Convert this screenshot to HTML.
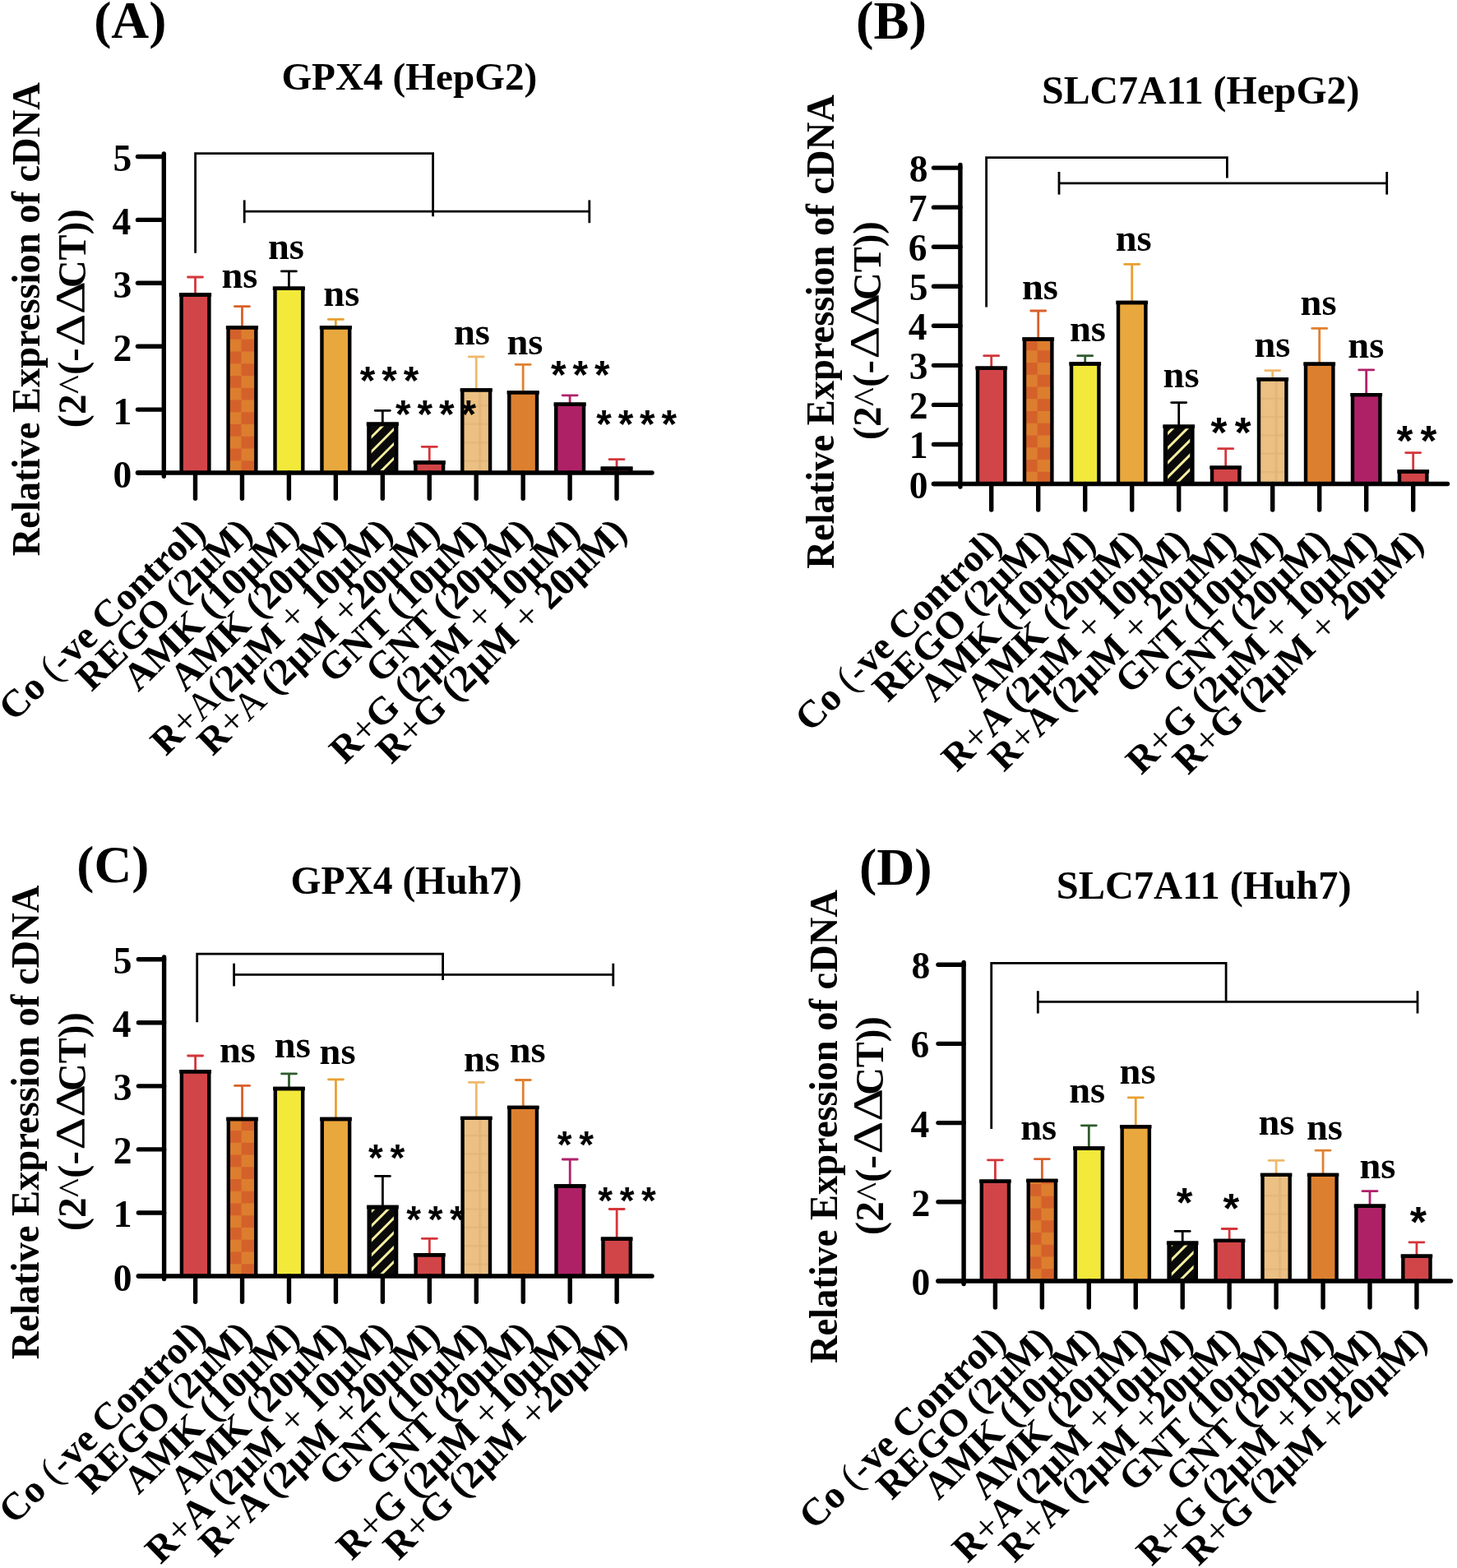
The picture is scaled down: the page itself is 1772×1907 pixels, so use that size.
<!DOCTYPE html>
<html><head><meta charset="utf-8"><title>Figure</title>
<style>html,body{margin:0;padding:0;background:#fff;} svg{display:block;}</style>
</head><body>
<svg width="1772" height="1907" viewBox="0 0 1772 1907" font-family='"Liberation Serif", "Times New Roman", serif'>
<defs><clipPath id="c1"><rect x="277.55" y="398.40" width="33.80" height="176.60"/></clipPath><clipPath id="c2"><rect x="451.60" y="518.40" width="27.40" height="54.10"/></clipPath><clipPath id="c3"><rect x="1246.00" y="412.50" width="33.40" height="176.00"/></clipPath><clipPath id="c4"><rect x="1420.20" y="521.30" width="27.00" height="64.70"/></clipPath><clipPath id="c5"><rect x="277.85" y="1361.00" width="33.40" height="191.00"/></clipPath><clipPath id="c6"><rect x="451.90" y="1470.70" width="27.00" height="78.80"/></clipPath><clipPath id="c7"><rect x="1250.75" y="1435.90" width="33.20" height="122.10"/></clipPath><clipPath id="c8"><rect x="1424.80" y="1514.50" width="26.80" height="41.00"/></clipPath></defs>
<rect width="1772" height="1907" fill="#fff"/>
<text x="114.20" y="46.10" font-size="63.54" font-weight="bold" text-anchor="start">(A)</text>
<text x="342.40" y="108.90" font-size="47.23" font-weight="bold" text-anchor="start">GPX4 (HepG2)</text>
<text x="47.70" y="676.20" font-size="48.5" font-weight="bold" text-anchor="start" textLength="576.0" lengthAdjust="spacingAndGlyphs" transform="rotate(-90 47.70 676.20)">Relative Expression of cDNA</text>
<text x="104.00" y="350.05" font-size="48.5" font-weight="bold" text-anchor="start" textLength="95.7" lengthAdjust="spacingAndGlyphs" transform="rotate(-90 104.00 350.05)">CT))</text>
<text x="101.70" y="421.60" font-size="50" font-weight="normal" text-anchor="start" textLength="79.4" lengthAdjust="spacingAndGlyphs" transform="rotate(-90 101.70 421.60)">ΔΔ</text>
<text x="104.00" y="520.45" font-size="48.5" font-weight="bold" text-anchor="start" textLength="97.3" lengthAdjust="spacingAndGlyphs" transform="rotate(-90 104.00 520.45)">(2<tspan font-weight="normal">^</tspan>(-</text>
<line x1="167.50" y1="575.00" x2="199.30" y2="575.00" stroke="#000" stroke-width="5.4" stroke-linecap="round"/>
<text x="160.20" y="592.50" font-size="45.5" font-weight="bold" text-anchor="end">0</text>
<line x1="167.50" y1="498.10" x2="199.30" y2="498.10" stroke="#000" stroke-width="5.4" stroke-linecap="round"/>
<text x="160.20" y="515.60" font-size="45.5" font-weight="bold" text-anchor="end">1</text>
<line x1="167.50" y1="421.20" x2="199.30" y2="421.20" stroke="#000" stroke-width="5.4" stroke-linecap="round"/>
<text x="160.20" y="438.70" font-size="45.5" font-weight="bold" text-anchor="end">2</text>
<line x1="167.50" y1="344.30" x2="199.30" y2="344.30" stroke="#000" stroke-width="5.4" stroke-linecap="round"/>
<text x="160.20" y="361.80" font-size="45.5" font-weight="bold" text-anchor="end">3</text>
<line x1="167.50" y1="267.40" x2="199.30" y2="267.40" stroke="#000" stroke-width="5.4" stroke-linecap="round"/>
<text x="159.20" y="284.90" font-size="45.5" font-weight="bold" text-anchor="end">4</text>
<line x1="167.50" y1="190.50" x2="199.30" y2="190.50" stroke="#000" stroke-width="5.4" stroke-linecap="round"/>
<text x="160.20" y="208.00" font-size="45.5" font-weight="bold" text-anchor="end">5</text>
<line x1="199.30" y1="187.00" x2="199.30" y2="579.30" stroke="#000" stroke-width="5.4" stroke-linecap="round"/>
<line x1="237.50" y1="357.30" x2="237.50" y2="337.00" stroke="#D3363B" stroke-width="2.8" stroke-linecap="butt"/>
<line x1="228.50" y1="337.00" x2="246.50" y2="337.00" stroke="#D3363B" stroke-width="2.8" stroke-linecap="round"/>
<rect x="220.60" y="358.50" width="33.80" height="216.50" fill="#D14548"/>
<path d="M220.60,575.00 L220.60,358.50 L254.40,358.50 L254.40,575.00" fill="none" stroke="#000" stroke-width="4.4"/>
<line x1="217.90" y1="358.50" x2="257.10" y2="358.50" stroke="#000" stroke-width="4.4"/>
<line x1="294.45" y1="397.20" x2="294.45" y2="372.70" stroke="#D9602A" stroke-width="2.8" stroke-linecap="butt"/>
<line x1="285.45" y1="372.70" x2="303.45" y2="372.70" stroke="#D9602A" stroke-width="2.8" stroke-linecap="round"/>
<rect x="277.55" y="398.40" width="33.80" height="176.60" fill="#DC7E2E"/>
<g clip-path="url(#c1)" fill="#D5612A">
<rect x="293.45" y="560.25" width="17.90" height="14.75"/>
<rect x="277.55" y="545.50" width="15.90" height="14.75"/>
<rect x="293.45" y="530.75" width="17.90" height="14.75"/>
<rect x="277.55" y="516.00" width="15.90" height="14.75"/>
<rect x="293.45" y="501.25" width="17.90" height="14.75"/>
<rect x="277.55" y="486.50" width="15.90" height="14.75"/>
<rect x="293.45" y="471.75" width="17.90" height="14.75"/>
<rect x="277.55" y="457.00" width="15.90" height="14.75"/>
<rect x="293.45" y="442.25" width="17.90" height="14.75"/>
<rect x="277.55" y="427.50" width="15.90" height="14.75"/>
<rect x="293.45" y="412.75" width="17.90" height="14.75"/>
<rect x="277.55" y="398.00" width="15.90" height="14.75"/>
<rect x="293.45" y="383.25" width="17.90" height="14.75"/>
</g>
<path d="M277.55,575.00 L277.55,398.40 L311.35,398.40 L311.35,575.00" fill="none" stroke="#000" stroke-width="4.4"/>
<line x1="274.85" y1="398.40" x2="314.05" y2="398.40" stroke="#000" stroke-width="4.4"/>
<line x1="351.40" y1="349.60" x2="351.40" y2="329.90" stroke="#000" stroke-width="2.8" stroke-linecap="butt"/>
<line x1="342.40" y1="329.90" x2="360.40" y2="329.90" stroke="#000" stroke-width="2.8" stroke-linecap="round"/>
<rect x="334.50" y="350.80" width="33.80" height="224.20" fill="#F2E93B"/>
<path d="M334.50,575.00 L334.50,350.80 L368.30,350.80 L368.30,575.00" fill="none" stroke="#000" stroke-width="4.4"/>
<line x1="331.80" y1="350.80" x2="371.00" y2="350.80" stroke="#000" stroke-width="4.4"/>
<line x1="408.35" y1="397.20" x2="408.35" y2="388.40" stroke="#E8A030" stroke-width="2.8" stroke-linecap="butt"/>
<line x1="399.35" y1="388.40" x2="417.35" y2="388.40" stroke="#E8A030" stroke-width="2.8" stroke-linecap="round"/>
<rect x="391.45" y="398.40" width="33.80" height="176.60" fill="#E8A83D"/>
<path d="M391.45,575.00 L391.45,398.40 L425.25,398.40 L425.25,575.00" fill="none" stroke="#000" stroke-width="4.4"/>
<line x1="388.75" y1="398.40" x2="427.95" y2="398.40" stroke="#000" stroke-width="4.4"/>
<line x1="465.30" y1="514.50" x2="465.30" y2="499.30" stroke="#000" stroke-width="2.8" stroke-linecap="butt"/>
<line x1="456.30" y1="499.30" x2="474.30" y2="499.30" stroke="#000" stroke-width="2.8" stroke-linecap="round"/>
<rect x="448.40" y="515.70" width="33.80" height="59.30" fill="#0A0A0A"/>
<g clip-path="url(#c2)" stroke="#F7EFA0" stroke-width="3.0" stroke-linecap="round">
<line x1="445.60" y1="590.90" x2="485.00" y2="551.50"/>
<line x1="445.60" y1="573.15" x2="485.00" y2="533.75"/>
<line x1="445.60" y1="555.40" x2="485.00" y2="516.00"/>
<line x1="445.60" y1="537.65" x2="485.00" y2="498.25"/>
<line x1="445.60" y1="519.90" x2="485.00" y2="480.50"/>
<line x1="445.60" y1="502.15" x2="485.00" y2="462.75"/>
<line x1="445.60" y1="484.40" x2="485.00" y2="445.00"/>
</g>
<path d="M448.40,575.00 L448.40,515.70 L482.20,515.70 L482.20,575.00" fill="none" stroke="#000" stroke-width="4.4"/>
<line x1="445.70" y1="515.70" x2="484.90" y2="515.70" stroke="#000" stroke-width="4.4"/>
<line x1="522.25" y1="561.30" x2="522.25" y2="543.30" stroke="#D3363B" stroke-width="2.8" stroke-linecap="butt"/>
<line x1="513.25" y1="543.30" x2="531.25" y2="543.30" stroke="#D3363B" stroke-width="2.8" stroke-linecap="round"/>
<rect x="505.35" y="562.50" width="33.80" height="12.50" fill="#D14548"/>
<path d="M505.35,575.00 L505.35,562.50 L539.15,562.50 L539.15,575.00" fill="none" stroke="#000" stroke-width="4.4"/>
<line x1="502.65" y1="562.50" x2="541.85" y2="562.50" stroke="#000" stroke-width="4.4"/>
<line x1="579.20" y1="473.20" x2="579.20" y2="433.90" stroke="#F0B86C" stroke-width="2.8" stroke-linecap="butt"/>
<line x1="570.20" y1="433.90" x2="588.20" y2="433.90" stroke="#F0B86C" stroke-width="2.8" stroke-linecap="round"/>
<rect x="562.30" y="474.40" width="33.80" height="100.60" fill="#EBC082"/>
<rect x="582.00" y="476.60" width="3.4" height="98.40" fill="#E0B277" opacity="0.7"/>
<rect x="564.50" y="559.40" width="29.40" height="2.4" fill="#E0B277" opacity="0.6"/>
<rect x="564.50" y="537.05" width="29.40" height="2.4" fill="#E0B277" opacity="0.6"/>
<rect x="564.50" y="514.70" width="29.40" height="2.4" fill="#E0B277" opacity="0.6"/>
<rect x="564.50" y="492.35" width="29.40" height="2.4" fill="#E0B277" opacity="0.6"/>
<path d="M562.30,575.00 L562.30,474.40 L596.10,474.40 L596.10,575.00" fill="none" stroke="#000" stroke-width="4.4"/>
<line x1="559.60" y1="474.40" x2="598.80" y2="474.40" stroke="#000" stroke-width="4.4"/>
<line x1="636.15" y1="476.20" x2="636.15" y2="443.30" stroke="#E08030" stroke-width="2.8" stroke-linecap="butt"/>
<line x1="627.15" y1="443.30" x2="645.15" y2="443.30" stroke="#E08030" stroke-width="2.8" stroke-linecap="round"/>
<rect x="619.25" y="477.40" width="33.80" height="97.60" fill="#DC8030"/>
<path d="M619.25,575.00 L619.25,477.40 L653.05,477.40 L653.05,575.00" fill="none" stroke="#000" stroke-width="4.4"/>
<line x1="616.55" y1="477.40" x2="655.75" y2="477.40" stroke="#000" stroke-width="4.4"/>
<line x1="693.10" y1="490.60" x2="693.10" y2="480.80" stroke="#B0206A" stroke-width="2.8" stroke-linecap="butt"/>
<line x1="684.10" y1="480.80" x2="702.10" y2="480.80" stroke="#B0206A" stroke-width="2.8" stroke-linecap="round"/>
<rect x="676.20" y="491.80" width="33.80" height="83.20" fill="#AF2167"/>
<path d="M676.20,575.00 L676.20,491.80 L710.00,491.80 L710.00,575.00" fill="none" stroke="#000" stroke-width="4.4"/>
<line x1="673.50" y1="491.80" x2="712.70" y2="491.80" stroke="#000" stroke-width="4.4"/>
<line x1="750.05" y1="568.50" x2="750.05" y2="558.70" stroke="#D3363B" stroke-width="2.8" stroke-linecap="butt"/>
<line x1="741.05" y1="558.70" x2="759.05" y2="558.70" stroke="#D3363B" stroke-width="2.8" stroke-linecap="round"/>
<rect x="733.15" y="569.70" width="33.80" height="5.30" fill="#D14548"/>
<path d="M733.15,575.00 L733.15,569.70 L766.95,569.70 L766.95,575.00" fill="none" stroke="#000" stroke-width="4.4"/>
<line x1="730.45" y1="569.70" x2="769.65" y2="569.70" stroke="#000" stroke-width="4.4"/>
<line x1="167.50" y1="575.00" x2="793.00" y2="575.00" stroke="#000" stroke-width="5.4" stroke-linecap="round"/>
<line x1="237.50" y1="575.00" x2="237.50" y2="606.30" stroke="#000" stroke-width="5.4" stroke-linecap="round"/>
<line x1="294.45" y1="575.00" x2="294.45" y2="606.30" stroke="#000" stroke-width="5.4" stroke-linecap="round"/>
<line x1="351.40" y1="575.00" x2="351.40" y2="606.30" stroke="#000" stroke-width="5.4" stroke-linecap="round"/>
<line x1="408.35" y1="575.00" x2="408.35" y2="606.30" stroke="#000" stroke-width="5.4" stroke-linecap="round"/>
<line x1="465.30" y1="575.00" x2="465.30" y2="606.30" stroke="#000" stroke-width="5.4" stroke-linecap="round"/>
<line x1="522.25" y1="575.00" x2="522.25" y2="606.30" stroke="#000" stroke-width="5.4" stroke-linecap="round"/>
<line x1="579.20" y1="575.00" x2="579.20" y2="606.30" stroke="#000" stroke-width="5.4" stroke-linecap="round"/>
<line x1="636.15" y1="575.00" x2="636.15" y2="606.30" stroke="#000" stroke-width="5.4" stroke-linecap="round"/>
<line x1="693.10" y1="575.00" x2="693.10" y2="606.30" stroke="#000" stroke-width="5.4" stroke-linecap="round"/>
<line x1="750.05" y1="575.00" x2="750.05" y2="606.30" stroke="#000" stroke-width="5.4" stroke-linecap="round"/>
<path d="M237.6,307.7 L237.6,186.7 L526.6,186.7 L526.6,263.3" fill="none" stroke="#000" stroke-width="2.8"/>
<line x1="297.20" y1="257.10" x2="716.80" y2="257.10" stroke="#000" stroke-width="2.8" stroke-linecap="butt"/>
<line x1="297.20" y1="243.40" x2="297.20" y2="271.20" stroke="#000" stroke-width="2.8" stroke-linecap="butt"/>
<line x1="716.80" y1="243.40" x2="716.80" y2="271.20" stroke="#000" stroke-width="2.8" stroke-linecap="butt"/>
<text x="269.40" y="350.00" font-size="46.5" font-weight="bold" text-anchor="start">ns</text>
<text x="325.90" y="315.30" font-size="46.5" font-weight="bold" text-anchor="start">ns</text>
<text x="393.30" y="372.30" font-size="46.5" font-weight="bold" text-anchor="start">ns</text>
<text x="437.70" y="478.90" font-family='"Liberation Sans", sans-serif' font-size="47.62" font-weight="bold" text-anchor="start">*</text>
<text x="464.20" y="478.90" font-family='"Liberation Sans", sans-serif' font-size="47.62" font-weight="bold" text-anchor="start">*</text>
<text x="490.70" y="478.90" font-family='"Liberation Sans", sans-serif' font-size="47.62" font-weight="bold" text-anchor="start">*</text>
<text x="481.00" y="520.40" font-family='"Liberation Sans", sans-serif' font-size="47.62" font-weight="bold" text-anchor="start">*</text>
<text x="507.50" y="520.40" font-family='"Liberation Sans", sans-serif' font-size="47.62" font-weight="bold" text-anchor="start">*</text>
<text x="534.00" y="520.40" font-family='"Liberation Sans", sans-serif' font-size="47.62" font-weight="bold" text-anchor="start">*</text>
<text x="560.50" y="520.40" font-family='"Liberation Sans", sans-serif' font-size="47.62" font-weight="bold" text-anchor="start">*</text>
<text x="552.00" y="418.50" font-size="46.5" font-weight="bold" text-anchor="start">ns</text>
<text x="616.40" y="431.00" font-size="46.5" font-weight="bold" text-anchor="start">ns</text>
<text x="670.10" y="472.30" font-family='"Liberation Sans", sans-serif' font-size="47.62" font-weight="bold" text-anchor="start">*</text>
<text x="696.60" y="472.30" font-family='"Liberation Sans", sans-serif' font-size="47.62" font-weight="bold" text-anchor="start">*</text>
<text x="723.10" y="472.30" font-family='"Liberation Sans", sans-serif' font-size="47.62" font-weight="bold" text-anchor="start">*</text>
<text x="725.30" y="531.50" font-family='"Liberation Sans", sans-serif' font-size="47.62" font-weight="bold" text-anchor="start">*</text>
<text x="751.70" y="531.50" font-family='"Liberation Sans", sans-serif' font-size="47.62" font-weight="bold" text-anchor="start">*</text>
<text x="778.10" y="531.50" font-family='"Liberation Sans", sans-serif' font-size="47.62" font-weight="bold" text-anchor="start">*</text>
<text x="804.50" y="531.50" font-family='"Liberation Sans", sans-serif' font-size="47.62" font-weight="bold" text-anchor="start">*</text>
<text x="252.20" y="649.90" font-size="47.0" font-weight="bold" text-anchor="end" transform="rotate(-44.2 252.20 649.90)">Co <tspan font-weight="normal">(-</tspan>ve Control)</text>
<text x="309.15" y="649.90" font-size="47.0" font-weight="bold" text-anchor="end" transform="rotate(-44.2 309.15 649.90)">REGO (2μM)</text>
<text x="366.10" y="649.90" font-size="47.0" font-weight="bold" text-anchor="end" transform="rotate(-44.2 366.10 649.90)">AMK (10μM)</text>
<text x="423.05" y="649.90" font-size="47.0" font-weight="bold" text-anchor="end" transform="rotate(-44.2 423.05 649.90)">AMK (20μM)</text>
<text x="480.00" y="649.90" font-size="47.0" font-weight="bold" text-anchor="end" transform="rotate(-44.2 480.00 649.90)">R<tspan font-weight="normal">+A</tspan>(2μM <tspan font-weight="normal">+</tspan> 10μM)</text>
<text x="536.95" y="649.90" font-size="47.0" font-weight="bold" text-anchor="end" transform="rotate(-44.2 536.95 649.90)">R<tspan font-weight="normal">+A</tspan> (2μM <tspan font-weight="normal">+</tspan>20μM)</text>
<text x="593.90" y="649.90" font-size="47.0" font-weight="bold" text-anchor="end" transform="rotate(-44.2 593.90 649.90)">GNT (10μM)</text>
<text x="650.85" y="649.90" font-size="47.0" font-weight="bold" text-anchor="end" transform="rotate(-44.2 650.85 649.90)">GNT (20μM)</text>
<text x="707.80" y="649.90" font-size="47.0" font-weight="bold" text-anchor="end" transform="rotate(-44.2 707.80 649.90)">R<tspan font-weight="normal">+</tspan>G (2μM <tspan font-weight="normal">+</tspan> 10μM)</text>
<text x="764.75" y="649.90" font-size="47.0" font-weight="bold" text-anchor="end" transform="rotate(-44.2 764.75 649.90)">R<tspan font-weight="normal">+</tspan>G (2μM <tspan font-weight="normal">+</tspan> 20μM)</text>
<text x="1041.00" y="46.60" font-size="64.54" font-weight="bold" text-anchor="start">(B)</text>
<text x="1267.05" y="125.60" font-size="47.81" font-weight="bold" text-anchor="start">SLC7A11 (HepG2)</text>
<text x="1014.10" y="691.65" font-size="48.5" font-weight="bold" text-anchor="start" textLength="576.5" lengthAdjust="spacingAndGlyphs" transform="rotate(-90 1014.10 691.65)">Relative Expression of cDNA</text>
<text x="1070.70" y="364.95" font-size="48.5" font-weight="bold" text-anchor="start" textLength="95.7" lengthAdjust="spacingAndGlyphs" transform="rotate(-90 1070.70 364.95)">CT))</text>
<text x="1068.40" y="436.50" font-size="50" font-weight="normal" text-anchor="start" textLength="79.4" lengthAdjust="spacingAndGlyphs" transform="rotate(-90 1068.40 436.50)">ΔΔ</text>
<text x="1070.70" y="535.35" font-size="48.5" font-weight="bold" text-anchor="start" textLength="97.3" lengthAdjust="spacingAndGlyphs" transform="rotate(-90 1070.70 535.35)">(2<tspan font-weight="normal">^</tspan>(-</text>
<line x1="1135.50" y1="588.50" x2="1167.90" y2="588.50" stroke="#000" stroke-width="5.4" stroke-linecap="round"/>
<text x="1128.40" y="605.50" font-size="45.5" font-weight="bold" text-anchor="end">0</text>
<line x1="1135.50" y1="540.45" x2="1167.90" y2="540.45" stroke="#000" stroke-width="5.4" stroke-linecap="round"/>
<text x="1128.40" y="557.45" font-size="45.5" font-weight="bold" text-anchor="end">1</text>
<line x1="1135.50" y1="492.40" x2="1167.90" y2="492.40" stroke="#000" stroke-width="5.4" stroke-linecap="round"/>
<text x="1128.40" y="509.40" font-size="45.5" font-weight="bold" text-anchor="end">2</text>
<line x1="1135.50" y1="444.35" x2="1167.90" y2="444.35" stroke="#000" stroke-width="5.4" stroke-linecap="round"/>
<text x="1128.40" y="461.35" font-size="45.5" font-weight="bold" text-anchor="end">3</text>
<line x1="1135.50" y1="396.30" x2="1167.90" y2="396.30" stroke="#000" stroke-width="5.4" stroke-linecap="round"/>
<text x="1127.40" y="413.30" font-size="45.5" font-weight="bold" text-anchor="end">4</text>
<line x1="1135.50" y1="348.25" x2="1167.90" y2="348.25" stroke="#000" stroke-width="5.4" stroke-linecap="round"/>
<text x="1128.40" y="365.25" font-size="45.5" font-weight="bold" text-anchor="end">5</text>
<line x1="1135.50" y1="300.20" x2="1167.90" y2="300.20" stroke="#000" stroke-width="5.4" stroke-linecap="round"/>
<text x="1127.40" y="317.20" font-size="45.5" font-weight="bold" text-anchor="end">6</text>
<line x1="1135.50" y1="252.15" x2="1167.90" y2="252.15" stroke="#000" stroke-width="5.4" stroke-linecap="round"/>
<text x="1127.40" y="269.15" font-size="45.5" font-weight="bold" text-anchor="end">7</text>
<line x1="1135.50" y1="204.10" x2="1167.90" y2="204.10" stroke="#000" stroke-width="5.4" stroke-linecap="round"/>
<text x="1128.40" y="221.10" font-size="45.5" font-weight="bold" text-anchor="end">8</text>
<line x1="1167.90" y1="200.50" x2="1167.90" y2="592.00" stroke="#000" stroke-width="5.4" stroke-linecap="round"/>
<line x1="1205.70" y1="446.40" x2="1205.70" y2="432.70" stroke="#D3363B" stroke-width="2.8" stroke-linecap="butt"/>
<line x1="1196.70" y1="432.70" x2="1214.70" y2="432.70" stroke="#D3363B" stroke-width="2.8" stroke-linecap="round"/>
<rect x="1189.00" y="447.60" width="33.40" height="140.90" fill="#D14548"/>
<path d="M1189.00,588.50 L1189.00,447.60 L1222.40,447.60 L1222.40,588.50" fill="none" stroke="#000" stroke-width="4.4"/>
<line x1="1186.30" y1="447.60" x2="1225.10" y2="447.60" stroke="#000" stroke-width="4.4"/>
<line x1="1262.70" y1="411.30" x2="1262.70" y2="378.00" stroke="#D9602A" stroke-width="2.8" stroke-linecap="butt"/>
<line x1="1253.70" y1="378.00" x2="1271.70" y2="378.00" stroke="#D9602A" stroke-width="2.8" stroke-linecap="round"/>
<rect x="1246.00" y="412.50" width="33.40" height="176.00" fill="#DC7E2E"/>
<g clip-path="url(#c3)" fill="#D5612A">
<rect x="1261.70" y="573.75" width="17.70" height="14.75"/>
<rect x="1246.00" y="559.00" width="15.70" height="14.75"/>
<rect x="1261.70" y="544.25" width="17.70" height="14.75"/>
<rect x="1246.00" y="529.50" width="15.70" height="14.75"/>
<rect x="1261.70" y="514.75" width="17.70" height="14.75"/>
<rect x="1246.00" y="500.00" width="15.70" height="14.75"/>
<rect x="1261.70" y="485.25" width="17.70" height="14.75"/>
<rect x="1246.00" y="470.50" width="15.70" height="14.75"/>
<rect x="1261.70" y="455.75" width="17.70" height="14.75"/>
<rect x="1246.00" y="441.00" width="15.70" height="14.75"/>
<rect x="1261.70" y="426.25" width="17.70" height="14.75"/>
<rect x="1246.00" y="411.50" width="15.70" height="14.75"/>
<rect x="1261.70" y="396.75" width="17.70" height="14.75"/>
</g>
<path d="M1246.00,588.50 L1246.00,412.50 L1279.40,412.50 L1279.40,588.50" fill="none" stroke="#000" stroke-width="4.4"/>
<line x1="1243.30" y1="412.50" x2="1282.10" y2="412.50" stroke="#000" stroke-width="4.4"/>
<line x1="1319.70" y1="441.30" x2="1319.70" y2="432.70" stroke="#2F5B2B" stroke-width="2.8" stroke-linecap="butt"/>
<line x1="1310.70" y1="432.70" x2="1328.70" y2="432.70" stroke="#2F5B2B" stroke-width="2.8" stroke-linecap="round"/>
<rect x="1303.00" y="442.50" width="33.40" height="146.00" fill="#F2E93B"/>
<path d="M1303.00,588.50 L1303.00,442.50 L1336.40,442.50 L1336.40,588.50" fill="none" stroke="#000" stroke-width="4.4"/>
<line x1="1300.30" y1="442.50" x2="1339.10" y2="442.50" stroke="#000" stroke-width="4.4"/>
<line x1="1376.70" y1="366.80" x2="1376.70" y2="321.30" stroke="#E8A030" stroke-width="2.8" stroke-linecap="butt"/>
<line x1="1367.70" y1="321.30" x2="1385.70" y2="321.30" stroke="#E8A030" stroke-width="2.8" stroke-linecap="round"/>
<rect x="1360.00" y="368.00" width="33.40" height="220.50" fill="#E8A83D"/>
<path d="M1360.00,588.50 L1360.00,368.00 L1393.40,368.00 L1393.40,588.50" fill="none" stroke="#000" stroke-width="4.4"/>
<line x1="1357.30" y1="368.00" x2="1396.10" y2="368.00" stroke="#000" stroke-width="4.4"/>
<line x1="1433.70" y1="517.40" x2="1433.70" y2="489.60" stroke="#000" stroke-width="2.8" stroke-linecap="butt"/>
<line x1="1424.70" y1="489.60" x2="1442.70" y2="489.60" stroke="#000" stroke-width="2.8" stroke-linecap="round"/>
<rect x="1417.00" y="518.60" width="33.40" height="69.90" fill="#0A0A0A"/>
<g clip-path="url(#c4)" stroke="#F7EFA0" stroke-width="3.0" stroke-linecap="round">
<line x1="1414.20" y1="604.20" x2="1453.20" y2="565.20"/>
<line x1="1414.20" y1="586.45" x2="1453.20" y2="547.45"/>
<line x1="1414.20" y1="568.70" x2="1453.20" y2="529.70"/>
<line x1="1414.20" y1="550.95" x2="1453.20" y2="511.95"/>
<line x1="1414.20" y1="533.20" x2="1453.20" y2="494.20"/>
<line x1="1414.20" y1="515.45" x2="1453.20" y2="476.45"/>
<line x1="1414.20" y1="497.70" x2="1453.20" y2="458.70"/>
</g>
<path d="M1417.00,588.50 L1417.00,518.60 L1450.40,518.60 L1450.40,588.50" fill="none" stroke="#000" stroke-width="4.4"/>
<line x1="1414.30" y1="518.60" x2="1453.10" y2="518.60" stroke="#000" stroke-width="4.4"/>
<line x1="1490.70" y1="567.40" x2="1490.70" y2="545.70" stroke="#D3363B" stroke-width="2.8" stroke-linecap="butt"/>
<line x1="1481.70" y1="545.70" x2="1499.70" y2="545.70" stroke="#D3363B" stroke-width="2.8" stroke-linecap="round"/>
<rect x="1474.00" y="568.60" width="33.40" height="19.90" fill="#D14548"/>
<path d="M1474.00,588.50 L1474.00,568.60 L1507.40,568.60 L1507.40,588.50" fill="none" stroke="#000" stroke-width="4.4"/>
<line x1="1471.30" y1="568.60" x2="1510.10" y2="568.60" stroke="#000" stroke-width="4.4"/>
<line x1="1547.70" y1="460.10" x2="1547.70" y2="450.60" stroke="#F0B86C" stroke-width="2.8" stroke-linecap="butt"/>
<line x1="1538.70" y1="450.60" x2="1556.70" y2="450.60" stroke="#F0B86C" stroke-width="2.8" stroke-linecap="round"/>
<rect x="1531.00" y="461.30" width="33.40" height="127.20" fill="#EBC082"/>
<rect x="1550.50" y="463.50" width="3.4" height="125.00" fill="#E0B277" opacity="0.7"/>
<rect x="1533.20" y="572.90" width="29.00" height="2.4" fill="#E0B277" opacity="0.6"/>
<rect x="1533.20" y="550.55" width="29.00" height="2.4" fill="#E0B277" opacity="0.6"/>
<rect x="1533.20" y="528.20" width="29.00" height="2.4" fill="#E0B277" opacity="0.6"/>
<rect x="1533.20" y="505.85" width="29.00" height="2.4" fill="#E0B277" opacity="0.6"/>
<rect x="1533.20" y="483.50" width="29.00" height="2.4" fill="#E0B277" opacity="0.6"/>
<path d="M1531.00,588.50 L1531.00,461.30 L1564.40,461.30 L1564.40,588.50" fill="none" stroke="#000" stroke-width="4.4"/>
<line x1="1528.30" y1="461.30" x2="1567.10" y2="461.30" stroke="#000" stroke-width="4.4"/>
<line x1="1604.70" y1="441.40" x2="1604.70" y2="399.40" stroke="#E08030" stroke-width="2.8" stroke-linecap="butt"/>
<line x1="1595.70" y1="399.40" x2="1613.70" y2="399.40" stroke="#E08030" stroke-width="2.8" stroke-linecap="round"/>
<rect x="1588.00" y="442.60" width="33.40" height="145.90" fill="#DC8030"/>
<path d="M1588.00,588.50 L1588.00,442.60 L1621.40,442.60 L1621.40,588.50" fill="none" stroke="#000" stroke-width="4.4"/>
<line x1="1585.30" y1="442.60" x2="1624.10" y2="442.60" stroke="#000" stroke-width="4.4"/>
<line x1="1661.70" y1="478.90" x2="1661.70" y2="449.90" stroke="#B0206A" stroke-width="2.8" stroke-linecap="butt"/>
<line x1="1652.70" y1="449.90" x2="1670.70" y2="449.90" stroke="#B0206A" stroke-width="2.8" stroke-linecap="round"/>
<rect x="1645.00" y="480.10" width="33.40" height="108.40" fill="#AF2167"/>
<path d="M1645.00,588.50 L1645.00,480.10 L1678.40,480.10 L1678.40,588.50" fill="none" stroke="#000" stroke-width="4.4"/>
<line x1="1642.30" y1="480.10" x2="1681.10" y2="480.10" stroke="#000" stroke-width="4.4"/>
<line x1="1718.70" y1="572.30" x2="1718.70" y2="550.60" stroke="#D3363B" stroke-width="2.8" stroke-linecap="butt"/>
<line x1="1709.70" y1="550.60" x2="1727.70" y2="550.60" stroke="#D3363B" stroke-width="2.8" stroke-linecap="round"/>
<rect x="1702.00" y="573.50" width="33.40" height="15.00" fill="#D14548"/>
<path d="M1702.00,588.50 L1702.00,573.50 L1735.40,573.50 L1735.40,588.50" fill="none" stroke="#000" stroke-width="4.4"/>
<line x1="1699.30" y1="573.50" x2="1738.10" y2="573.50" stroke="#000" stroke-width="4.4"/>
<line x1="1135.50" y1="588.50" x2="1760.50" y2="588.50" stroke="#000" stroke-width="5.4" stroke-linecap="round"/>
<line x1="1205.70" y1="588.50" x2="1205.70" y2="620.00" stroke="#000" stroke-width="5.4" stroke-linecap="round"/>
<line x1="1262.70" y1="588.50" x2="1262.70" y2="620.00" stroke="#000" stroke-width="5.4" stroke-linecap="round"/>
<line x1="1319.70" y1="588.50" x2="1319.70" y2="620.00" stroke="#000" stroke-width="5.4" stroke-linecap="round"/>
<line x1="1376.70" y1="588.50" x2="1376.70" y2="620.00" stroke="#000" stroke-width="5.4" stroke-linecap="round"/>
<line x1="1433.70" y1="588.50" x2="1433.70" y2="620.00" stroke="#000" stroke-width="5.4" stroke-linecap="round"/>
<line x1="1490.70" y1="588.50" x2="1490.70" y2="620.00" stroke="#000" stroke-width="5.4" stroke-linecap="round"/>
<line x1="1547.70" y1="588.50" x2="1547.70" y2="620.00" stroke="#000" stroke-width="5.4" stroke-linecap="round"/>
<line x1="1604.70" y1="588.50" x2="1604.70" y2="620.00" stroke="#000" stroke-width="5.4" stroke-linecap="round"/>
<line x1="1661.70" y1="588.50" x2="1661.70" y2="620.00" stroke="#000" stroke-width="5.4" stroke-linecap="round"/>
<line x1="1718.70" y1="588.50" x2="1718.70" y2="620.00" stroke="#000" stroke-width="5.4" stroke-linecap="round"/>
<path d="M1199.6,373.4 L1199.6,191.6 L1492.4,191.6 L1492.4,216.6" fill="none" stroke="#000" stroke-width="2.8"/>
<line x1="1288.00" y1="222.90" x2="1686.70" y2="222.90" stroke="#000" stroke-width="2.8" stroke-linecap="butt"/>
<line x1="1288.00" y1="209.00" x2="1288.00" y2="236.60" stroke="#000" stroke-width="2.8" stroke-linecap="butt"/>
<line x1="1686.70" y1="209.00" x2="1686.70" y2="236.60" stroke="#000" stroke-width="2.8" stroke-linecap="butt"/>
<text x="1243.00" y="364.00" font-size="46.5" font-weight="bold" text-anchor="start">ns</text>
<text x="1300.90" y="414.70" font-size="46.5" font-weight="bold" text-anchor="start">ns</text>
<text x="1356.70" y="304.50" font-size="46.5" font-weight="bold" text-anchor="start">ns</text>
<text x="1414.60" y="470.50" font-size="46.5" font-weight="bold" text-anchor="start">ns</text>
<text x="1472.60" y="544.20" font-family='"Liberation Sans", sans-serif' font-size="51.03" font-weight="bold" text-anchor="start">*</text>
<text x="1501.80" y="544.20" font-family='"Liberation Sans", sans-serif' font-size="51.03" font-weight="bold" text-anchor="start">*</text>
<text x="1525.50" y="434.00" font-size="46.5" font-weight="bold" text-anchor="start">ns</text>
<text x="1581.60" y="382.80" font-size="46.5" font-weight="bold" text-anchor="start">ns</text>
<text x="1639.30" y="435.20" font-size="46.5" font-weight="bold" text-anchor="start">ns</text>
<text x="1698.40" y="553.90" font-family='"Liberation Sans", sans-serif' font-size="51.03" font-weight="bold" text-anchor="start">*</text>
<text x="1727.60" y="553.90" font-family='"Liberation Sans", sans-serif' font-size="51.03" font-weight="bold" text-anchor="start">*</text>
<text x="1220.70" y="662.90" font-size="47.0" font-weight="bold" text-anchor="end" transform="rotate(-44.2 1220.70 662.90)">Co <tspan font-weight="normal">(-</tspan>ve Control)</text>
<text x="1277.70" y="662.90" font-size="47.0" font-weight="bold" text-anchor="end" transform="rotate(-44.2 1277.70 662.90)">REGO (2μM)</text>
<text x="1334.70" y="662.90" font-size="47.0" font-weight="bold" text-anchor="end" transform="rotate(-44.2 1334.70 662.90)">AMK (10μM)</text>
<text x="1391.70" y="662.90" font-size="47.0" font-weight="bold" text-anchor="end" transform="rotate(-44.2 1391.70 662.90)">AMK (20μM)</text>
<text x="1448.70" y="662.90" font-size="47.0" font-weight="bold" text-anchor="end" transform="rotate(-44.2 1448.70 662.90)">R<tspan font-weight="normal">+</tspan>A (2μM <tspan font-weight="normal">+</tspan> 10μM)</text>
<text x="1505.70" y="662.90" font-size="47.0" font-weight="bold" text-anchor="end" transform="rotate(-44.2 1505.70 662.90)">R<tspan font-weight="normal">+</tspan>A (2μM <tspan font-weight="normal">+</tspan> 20μM)</text>
<text x="1562.70" y="662.90" font-size="47.0" font-weight="bold" text-anchor="end" transform="rotate(-44.2 1562.70 662.90)">GNT (10μM)</text>
<text x="1619.70" y="662.90" font-size="47.0" font-weight="bold" text-anchor="end" transform="rotate(-44.2 1619.70 662.90)">GNT (20μM)</text>
<text x="1676.70" y="662.90" font-size="47.0" font-weight="bold" text-anchor="end" transform="rotate(-44.2 1676.70 662.90)">R<tspan font-weight="normal">+</tspan>G (2μM <tspan font-weight="normal">+</tspan> 10μM)</text>
<text x="1733.70" y="662.90" font-size="47.0" font-weight="bold" text-anchor="end" transform="rotate(-44.2 1733.70 662.90)">R<tspan font-weight="normal">+</tspan>G (2μM <tspan font-weight="normal">+</tspan> 20μM)</text>
<text x="93.35" y="1073.00" font-size="63.31" font-weight="bold" text-anchor="start">(C)</text>
<text x="353.45" y="1087.30" font-size="47.56" font-weight="bold" text-anchor="start">GPX4 (Huh7)</text>
<text x="47.40" y="1653.35" font-size="48.5" font-weight="bold" text-anchor="start" textLength="576.7" lengthAdjust="spacingAndGlyphs" transform="rotate(-90 47.40 1653.35)">Relative Expression of cDNA</text>
<text x="104.00" y="1326.95" font-size="48.5" font-weight="bold" text-anchor="start" textLength="95.7" lengthAdjust="spacingAndGlyphs" transform="rotate(-90 104.00 1326.95)">CT))</text>
<text x="101.70" y="1398.50" font-size="50" font-weight="normal" text-anchor="start" textLength="79.4" lengthAdjust="spacingAndGlyphs" transform="rotate(-90 101.70 1398.50)">ΔΔ</text>
<text x="104.00" y="1497.35" font-size="48.5" font-weight="bold" text-anchor="start" textLength="97.3" lengthAdjust="spacingAndGlyphs" transform="rotate(-90 104.00 1497.35)">(2<tspan font-weight="normal">^</tspan>(-</text>
<line x1="168.40" y1="1552.00" x2="199.60" y2="1552.00" stroke="#000" stroke-width="5.4" stroke-linecap="round"/>
<text x="160.60" y="1569.50" font-size="45.5" font-weight="bold" text-anchor="end">0</text>
<line x1="168.40" y1="1474.95" x2="199.60" y2="1474.95" stroke="#000" stroke-width="5.4" stroke-linecap="round"/>
<text x="160.60" y="1492.45" font-size="45.5" font-weight="bold" text-anchor="end">1</text>
<line x1="168.40" y1="1397.90" x2="199.60" y2="1397.90" stroke="#000" stroke-width="5.4" stroke-linecap="round"/>
<text x="160.60" y="1415.40" font-size="45.5" font-weight="bold" text-anchor="end">2</text>
<line x1="168.40" y1="1320.85" x2="199.60" y2="1320.85" stroke="#000" stroke-width="5.4" stroke-linecap="round"/>
<text x="160.60" y="1338.35" font-size="45.5" font-weight="bold" text-anchor="end">3</text>
<line x1="168.40" y1="1243.80" x2="199.60" y2="1243.80" stroke="#000" stroke-width="5.4" stroke-linecap="round"/>
<text x="159.60" y="1261.30" font-size="45.5" font-weight="bold" text-anchor="end">4</text>
<line x1="168.40" y1="1166.75" x2="199.60" y2="1166.75" stroke="#000" stroke-width="5.4" stroke-linecap="round"/>
<text x="160.60" y="1184.25" font-size="45.5" font-weight="bold" text-anchor="end">5</text>
<line x1="199.60" y1="1164.00" x2="199.60" y2="1555.50" stroke="#000" stroke-width="5.4" stroke-linecap="round"/>
<line x1="237.60" y1="1302.00" x2="237.60" y2="1284.00" stroke="#D3363B" stroke-width="2.8" stroke-linecap="butt"/>
<line x1="228.60" y1="1284.00" x2="246.60" y2="1284.00" stroke="#D3363B" stroke-width="2.8" stroke-linecap="round"/>
<rect x="220.90" y="1303.20" width="33.40" height="248.80" fill="#D14548"/>
<path d="M220.90,1552.00 L220.90,1303.20 L254.30,1303.20 L254.30,1552.00" fill="none" stroke="#000" stroke-width="4.4"/>
<line x1="218.20" y1="1303.20" x2="257.00" y2="1303.20" stroke="#000" stroke-width="4.4"/>
<line x1="294.55" y1="1359.80" x2="294.55" y2="1320.40" stroke="#D9602A" stroke-width="2.8" stroke-linecap="butt"/>
<line x1="285.55" y1="1320.40" x2="303.55" y2="1320.40" stroke="#D9602A" stroke-width="2.8" stroke-linecap="round"/>
<rect x="277.85" y="1361.00" width="33.40" height="191.00" fill="#DC7E2E"/>
<g clip-path="url(#c5)" fill="#D5612A">
<rect x="293.55" y="1537.25" width="17.70" height="14.75"/>
<rect x="277.85" y="1522.50" width="15.70" height="14.75"/>
<rect x="293.55" y="1507.75" width="17.70" height="14.75"/>
<rect x="277.85" y="1493.00" width="15.70" height="14.75"/>
<rect x="293.55" y="1478.25" width="17.70" height="14.75"/>
<rect x="277.85" y="1463.50" width="15.70" height="14.75"/>
<rect x="293.55" y="1448.75" width="17.70" height="14.75"/>
<rect x="277.85" y="1434.00" width="15.70" height="14.75"/>
<rect x="293.55" y="1419.25" width="17.70" height="14.75"/>
<rect x="277.85" y="1404.50" width="15.70" height="14.75"/>
<rect x="293.55" y="1389.75" width="17.70" height="14.75"/>
<rect x="277.85" y="1375.00" width="15.70" height="14.75"/>
<rect x="293.55" y="1360.25" width="17.70" height="14.75"/>
<rect x="277.85" y="1345.50" width="15.70" height="14.75"/>
</g>
<path d="M277.85,1552.00 L277.85,1361.00 L311.25,1361.00 L311.25,1552.00" fill="none" stroke="#000" stroke-width="4.4"/>
<line x1="275.15" y1="1361.00" x2="313.95" y2="1361.00" stroke="#000" stroke-width="4.4"/>
<line x1="351.50" y1="1322.80" x2="351.50" y2="1305.80" stroke="#2F5B2B" stroke-width="2.8" stroke-linecap="butt"/>
<line x1="342.50" y1="1305.80" x2="360.50" y2="1305.80" stroke="#2F5B2B" stroke-width="2.8" stroke-linecap="round"/>
<rect x="334.80" y="1324.00" width="33.40" height="228.00" fill="#F2E93B"/>
<path d="M334.80,1552.00 L334.80,1324.00 L368.20,1324.00 L368.20,1552.00" fill="none" stroke="#000" stroke-width="4.4"/>
<line x1="332.10" y1="1324.00" x2="370.90" y2="1324.00" stroke="#000" stroke-width="4.4"/>
<line x1="408.45" y1="1359.80" x2="408.45" y2="1312.80" stroke="#E8A030" stroke-width="2.8" stroke-linecap="butt"/>
<line x1="399.45" y1="1312.80" x2="417.45" y2="1312.80" stroke="#E8A030" stroke-width="2.8" stroke-linecap="round"/>
<rect x="391.75" y="1361.00" width="33.40" height="191.00" fill="#E8A83D"/>
<path d="M391.75,1552.00 L391.75,1361.00 L425.15,1361.00 L425.15,1552.00" fill="none" stroke="#000" stroke-width="4.4"/>
<line x1="389.05" y1="1361.00" x2="427.85" y2="1361.00" stroke="#000" stroke-width="4.4"/>
<line x1="465.40" y1="1466.80" x2="465.40" y2="1430.40" stroke="#000" stroke-width="2.8" stroke-linecap="butt"/>
<line x1="456.40" y1="1430.40" x2="474.40" y2="1430.40" stroke="#000" stroke-width="2.8" stroke-linecap="round"/>
<rect x="448.70" y="1468.00" width="33.40" height="84.00" fill="#0A0A0A"/>
<g clip-path="url(#c6)" stroke="#F7EFA0" stroke-width="3.0" stroke-linecap="round">
<line x1="445.90" y1="1567.70" x2="484.90" y2="1528.70"/>
<line x1="445.90" y1="1549.95" x2="484.90" y2="1510.95"/>
<line x1="445.90" y1="1532.20" x2="484.90" y2="1493.20"/>
<line x1="445.90" y1="1514.45" x2="484.90" y2="1475.45"/>
<line x1="445.90" y1="1496.70" x2="484.90" y2="1457.70"/>
<line x1="445.90" y1="1478.95" x2="484.90" y2="1439.95"/>
<line x1="445.90" y1="1461.20" x2="484.90" y2="1422.20"/>
<line x1="445.90" y1="1443.45" x2="484.90" y2="1404.45"/>
</g>
<path d="M448.70,1552.00 L448.70,1468.00 L482.10,1468.00 L482.10,1552.00" fill="none" stroke="#000" stroke-width="4.4"/>
<line x1="446.00" y1="1468.00" x2="484.80" y2="1468.00" stroke="#000" stroke-width="4.4"/>
<line x1="522.35" y1="1525.00" x2="522.35" y2="1506.30" stroke="#D3363B" stroke-width="2.8" stroke-linecap="butt"/>
<line x1="513.35" y1="1506.30" x2="531.35" y2="1506.30" stroke="#D3363B" stroke-width="2.8" stroke-linecap="round"/>
<rect x="505.65" y="1526.20" width="33.40" height="25.80" fill="#D14548"/>
<path d="M505.65,1552.00 L505.65,1526.20 L539.05,1526.20 L539.05,1552.00" fill="none" stroke="#000" stroke-width="4.4"/>
<line x1="502.95" y1="1526.20" x2="541.75" y2="1526.20" stroke="#000" stroke-width="4.4"/>
<line x1="579.30" y1="1358.70" x2="579.30" y2="1316.40" stroke="#F0B86C" stroke-width="2.8" stroke-linecap="butt"/>
<line x1="570.30" y1="1316.40" x2="588.30" y2="1316.40" stroke="#F0B86C" stroke-width="2.8" stroke-linecap="round"/>
<rect x="562.60" y="1359.90" width="33.40" height="192.10" fill="#EBC082"/>
<rect x="582.10" y="1362.10" width="3.4" height="189.90" fill="#E0B277" opacity="0.7"/>
<rect x="564.80" y="1536.40" width="29.00" height="2.4" fill="#E0B277" opacity="0.6"/>
<rect x="564.80" y="1514.05" width="29.00" height="2.4" fill="#E0B277" opacity="0.6"/>
<rect x="564.80" y="1491.70" width="29.00" height="2.4" fill="#E0B277" opacity="0.6"/>
<rect x="564.80" y="1469.35" width="29.00" height="2.4" fill="#E0B277" opacity="0.6"/>
<rect x="564.80" y="1447.00" width="29.00" height="2.4" fill="#E0B277" opacity="0.6"/>
<rect x="564.80" y="1424.65" width="29.00" height="2.4" fill="#E0B277" opacity="0.6"/>
<rect x="564.80" y="1402.30" width="29.00" height="2.4" fill="#E0B277" opacity="0.6"/>
<rect x="564.80" y="1379.95" width="29.00" height="2.4" fill="#E0B277" opacity="0.6"/>
<path d="M562.60,1552.00 L562.60,1359.90 L596.00,1359.90 L596.00,1552.00" fill="none" stroke="#000" stroke-width="4.4"/>
<line x1="559.90" y1="1359.90" x2="598.70" y2="1359.90" stroke="#000" stroke-width="4.4"/>
<line x1="636.25" y1="1345.70" x2="636.25" y2="1313.50" stroke="#E08030" stroke-width="2.8" stroke-linecap="butt"/>
<line x1="627.25" y1="1313.50" x2="645.25" y2="1313.50" stroke="#E08030" stroke-width="2.8" stroke-linecap="round"/>
<rect x="619.55" y="1346.90" width="33.40" height="205.10" fill="#DC8030"/>
<path d="M619.55,1552.00 L619.55,1346.90 L652.95,1346.90 L652.95,1552.00" fill="none" stroke="#000" stroke-width="4.4"/>
<line x1="616.85" y1="1346.90" x2="655.65" y2="1346.90" stroke="#000" stroke-width="4.4"/>
<line x1="693.20" y1="1441.30" x2="693.20" y2="1410.00" stroke="#B0206A" stroke-width="2.8" stroke-linecap="butt"/>
<line x1="684.20" y1="1410.00" x2="702.20" y2="1410.00" stroke="#B0206A" stroke-width="2.8" stroke-linecap="round"/>
<rect x="676.50" y="1442.50" width="33.40" height="109.50" fill="#AF2167"/>
<path d="M676.50,1552.00 L676.50,1442.50 L709.90,1442.50 L709.90,1552.00" fill="none" stroke="#000" stroke-width="4.4"/>
<line x1="673.80" y1="1442.50" x2="712.60" y2="1442.50" stroke="#000" stroke-width="4.4"/>
<line x1="750.15" y1="1505.50" x2="750.15" y2="1470.50" stroke="#D3363B" stroke-width="2.8" stroke-linecap="butt"/>
<line x1="741.15" y1="1470.50" x2="759.15" y2="1470.50" stroke="#D3363B" stroke-width="2.8" stroke-linecap="round"/>
<rect x="733.45" y="1506.70" width="33.40" height="45.30" fill="#D14548"/>
<path d="M733.45,1552.00 L733.45,1506.70 L766.85,1506.70 L766.85,1552.00" fill="none" stroke="#000" stroke-width="4.4"/>
<line x1="730.75" y1="1506.70" x2="769.55" y2="1506.70" stroke="#000" stroke-width="4.4"/>
<line x1="168.40" y1="1552.00" x2="793.00" y2="1552.00" stroke="#000" stroke-width="5.4" stroke-linecap="round"/>
<line x1="237.60" y1="1552.00" x2="237.60" y2="1583.30" stroke="#000" stroke-width="5.4" stroke-linecap="round"/>
<line x1="294.55" y1="1552.00" x2="294.55" y2="1583.30" stroke="#000" stroke-width="5.4" stroke-linecap="round"/>
<line x1="351.50" y1="1552.00" x2="351.50" y2="1583.30" stroke="#000" stroke-width="5.4" stroke-linecap="round"/>
<line x1="408.45" y1="1552.00" x2="408.45" y2="1583.30" stroke="#000" stroke-width="5.4" stroke-linecap="round"/>
<line x1="465.40" y1="1552.00" x2="465.40" y2="1583.30" stroke="#000" stroke-width="5.4" stroke-linecap="round"/>
<line x1="522.35" y1="1552.00" x2="522.35" y2="1583.30" stroke="#000" stroke-width="5.4" stroke-linecap="round"/>
<line x1="579.30" y1="1552.00" x2="579.30" y2="1583.30" stroke="#000" stroke-width="5.4" stroke-linecap="round"/>
<line x1="636.25" y1="1552.00" x2="636.25" y2="1583.30" stroke="#000" stroke-width="5.4" stroke-linecap="round"/>
<line x1="693.20" y1="1552.00" x2="693.20" y2="1583.30" stroke="#000" stroke-width="5.4" stroke-linecap="round"/>
<line x1="750.15" y1="1552.00" x2="750.15" y2="1583.30" stroke="#000" stroke-width="5.4" stroke-linecap="round"/>
<path d="M239.7,1243.2 L239.7,1160.1 L538.6,1160.1 L538.6,1192.0" fill="none" stroke="#000" stroke-width="2.8"/>
<line x1="284.60" y1="1185.40" x2="745.80" y2="1185.40" stroke="#000" stroke-width="2.8" stroke-linecap="butt"/>
<line x1="284.60" y1="1171.70" x2="284.60" y2="1199.40" stroke="#000" stroke-width="2.8" stroke-linecap="butt"/>
<line x1="745.80" y1="1171.70" x2="745.80" y2="1199.40" stroke="#000" stroke-width="2.8" stroke-linecap="butt"/>
<text x="267.00" y="1291.60" font-size="46.5" font-weight="bold" text-anchor="start">ns</text>
<text x="333.80" y="1286.20" font-size="46.5" font-weight="bold" text-anchor="start">ns</text>
<text x="388.60" y="1294.00" font-size="46.5" font-weight="bold" text-anchor="start">ns</text>
<text x="448.10" y="1424.40" font-family='"Liberation Sans", sans-serif' font-size="45.64" font-weight="bold" text-anchor="start">*</text>
<text x="474.50" y="1424.40" font-family='"Liberation Sans", sans-serif' font-size="45.64" font-weight="bold" text-anchor="start">*</text>
<text x="494.30" y="1498.80" font-family='"Liberation Sans", sans-serif' font-size="45.64" font-weight="bold" text-anchor="start">*</text>
<text x="520.70" y="1498.80" font-family='"Liberation Sans", sans-serif' font-size="45.64" font-weight="bold" text-anchor="start">*</text>
<text x="547.10" y="1498.80" font-family='"Liberation Sans", sans-serif' font-size="45.64" font-weight="bold" text-anchor="start">*</text>
<text x="564.00" y="1302.70" font-size="46.5" font-weight="bold" text-anchor="start">ns</text>
<text x="619.70" y="1292.10" font-size="46.5" font-weight="bold" text-anchor="start">ns</text>
<text x="677.80" y="1408.30" font-family='"Liberation Sans", sans-serif' font-size="45.64" font-weight="bold" text-anchor="start">*</text>
<text x="704.20" y="1408.30" font-family='"Liberation Sans", sans-serif' font-size="45.64" font-weight="bold" text-anchor="start">*</text>
<text x="727.30" y="1475.50" font-family='"Liberation Sans", sans-serif' font-size="45.64" font-weight="bold" text-anchor="start">*</text>
<text x="753.70" y="1475.50" font-family='"Liberation Sans", sans-serif' font-size="45.64" font-weight="bold" text-anchor="start">*</text>
<text x="780.10" y="1475.50" font-family='"Liberation Sans", sans-serif' font-size="45.64" font-weight="bold" text-anchor="start">*</text>
<text x="252.30" y="1626.50" font-size="47.0" font-weight="bold" text-anchor="end" transform="rotate(-44.2 252.30 1626.50)">Co <tspan font-weight="normal">(-</tspan>ve Control)</text>
<text x="309.25" y="1626.50" font-size="47.0" font-weight="bold" text-anchor="end" transform="rotate(-44.2 309.25 1626.50)">REGO (2μM)</text>
<text x="366.20" y="1626.50" font-size="47.0" font-weight="bold" text-anchor="end" transform="rotate(-44.2 366.20 1626.50)">AMK (10μM)</text>
<text x="423.15" y="1626.50" font-size="47.0" font-weight="bold" text-anchor="end" transform="rotate(-44.2 423.15 1626.50)">AMK (20μM)</text>
<text x="480.10" y="1626.50" font-size="47.0" font-weight="bold" text-anchor="end" transform="rotate(-44.2 480.10 1626.50)">R<tspan font-weight="normal">+</tspan>A (2μM <tspan font-weight="normal">+</tspan> 10μM)</text>
<text x="537.05" y="1626.50" font-size="47.0" font-weight="bold" text-anchor="end" transform="rotate(-44.2 537.05 1626.50)">R<tspan font-weight="normal">+</tspan>A (2μM <tspan font-weight="normal">+</tspan>20μM)</text>
<text x="594.00" y="1626.50" font-size="47.0" font-weight="bold" text-anchor="end" transform="rotate(-44.2 594.00 1626.50)">GNT (10μM)</text>
<text x="650.95" y="1626.50" font-size="47.0" font-weight="bold" text-anchor="end" transform="rotate(-44.2 650.95 1626.50)">GNT (20μM)</text>
<text x="707.90" y="1626.50" font-size="47.0" font-weight="bold" text-anchor="end" transform="rotate(-44.2 707.90 1626.50)">R<tspan font-weight="normal">+</tspan>G (2μM <tspan font-weight="normal">+</tspan>10μM)</text>
<text x="764.85" y="1626.50" font-size="47.0" font-weight="bold" text-anchor="end" transform="rotate(-44.2 764.85 1626.50)">R<tspan font-weight="normal">+</tspan>G (2μM <tspan font-weight="normal">+</tspan>20μM)</text>
<text x="1044.90" y="1075.80" font-size="63.85" font-weight="bold" text-anchor="start">(D)</text>
<text x="1284.75" y="1092.90" font-size="48.36" font-weight="bold" text-anchor="start">SLC7A11 (Huh7)</text>
<text x="1017.70" y="1658.10" font-size="48.5" font-weight="bold" text-anchor="start" textLength="576.0" lengthAdjust="spacingAndGlyphs" transform="rotate(-90 1017.70 1658.10)">Relative Expression of cDNA</text>
<text x="1074.00" y="1331.85" font-size="48.5" font-weight="bold" text-anchor="start" textLength="95.7" lengthAdjust="spacingAndGlyphs" transform="rotate(-90 1074.00 1331.85)">CT))</text>
<text x="1071.70" y="1403.40" font-size="50" font-weight="normal" text-anchor="start" textLength="79.4" lengthAdjust="spacingAndGlyphs" transform="rotate(-90 1071.70 1403.40)">ΔΔ</text>
<text x="1074.00" y="1502.25" font-size="48.5" font-weight="bold" text-anchor="start" textLength="97.3" lengthAdjust="spacingAndGlyphs" transform="rotate(-90 1074.00 1502.25)">(2<tspan font-weight="normal">^</tspan>(-</text>
<line x1="1141.00" y1="1558.00" x2="1172.10" y2="1558.00" stroke="#000" stroke-width="5.4" stroke-linecap="round"/>
<text x="1131.20" y="1575.00" font-size="45.5" font-weight="bold" text-anchor="end">0</text>
<line x1="1141.00" y1="1461.80" x2="1172.10" y2="1461.80" stroke="#000" stroke-width="5.4" stroke-linecap="round"/>
<text x="1131.20" y="1478.80" font-size="45.5" font-weight="bold" text-anchor="end">2</text>
<line x1="1141.00" y1="1365.60" x2="1172.10" y2="1365.60" stroke="#000" stroke-width="5.4" stroke-linecap="round"/>
<text x="1130.20" y="1382.60" font-size="45.5" font-weight="bold" text-anchor="end">4</text>
<line x1="1141.00" y1="1269.40" x2="1172.10" y2="1269.40" stroke="#000" stroke-width="5.4" stroke-linecap="round"/>
<text x="1130.20" y="1286.40" font-size="45.5" font-weight="bold" text-anchor="end">6</text>
<line x1="1141.00" y1="1173.20" x2="1172.10" y2="1173.20" stroke="#000" stroke-width="5.4" stroke-linecap="round"/>
<text x="1131.20" y="1190.20" font-size="45.5" font-weight="bold" text-anchor="end">8</text>
<line x1="1172.10" y1="1170.50" x2="1172.10" y2="1561.50" stroke="#000" stroke-width="5.4" stroke-linecap="round"/>
<line x1="1210.40" y1="1435.40" x2="1210.40" y2="1410.80" stroke="#D3363B" stroke-width="2.8" stroke-linecap="butt"/>
<line x1="1201.40" y1="1410.80" x2="1219.40" y2="1410.80" stroke="#D3363B" stroke-width="2.8" stroke-linecap="round"/>
<rect x="1193.80" y="1436.60" width="33.20" height="121.40" fill="#D14548"/>
<path d="M1193.80,1558.00 L1193.80,1436.60 L1227.00,1436.60 L1227.00,1558.00" fill="none" stroke="#000" stroke-width="4.4"/>
<line x1="1191.10" y1="1436.60" x2="1229.70" y2="1436.60" stroke="#000" stroke-width="4.4"/>
<line x1="1267.35" y1="1434.70" x2="1267.35" y2="1409.60" stroke="#D9602A" stroke-width="2.8" stroke-linecap="butt"/>
<line x1="1258.35" y1="1409.60" x2="1276.35" y2="1409.60" stroke="#D9602A" stroke-width="2.8" stroke-linecap="round"/>
<rect x="1250.75" y="1435.90" width="33.20" height="122.10" fill="#DC7E2E"/>
<g clip-path="url(#c7)" fill="#D5612A">
<rect x="1266.35" y="1543.25" width="17.60" height="14.75"/>
<rect x="1250.75" y="1528.50" width="15.60" height="14.75"/>
<rect x="1266.35" y="1513.75" width="17.60" height="14.75"/>
<rect x="1250.75" y="1499.00" width="15.60" height="14.75"/>
<rect x="1266.35" y="1484.25" width="17.60" height="14.75"/>
<rect x="1250.75" y="1469.50" width="15.60" height="14.75"/>
<rect x="1266.35" y="1454.75" width="17.60" height="14.75"/>
<rect x="1250.75" y="1440.00" width="15.60" height="14.75"/>
<rect x="1266.35" y="1425.25" width="17.60" height="14.75"/>
<rect x="1250.75" y="1410.50" width="15.60" height="14.75"/>
</g>
<path d="M1250.75,1558.00 L1250.75,1435.90 L1283.95,1435.90 L1283.95,1558.00" fill="none" stroke="#000" stroke-width="4.4"/>
<line x1="1248.05" y1="1435.90" x2="1286.65" y2="1435.90" stroke="#000" stroke-width="4.4"/>
<line x1="1324.30" y1="1395.30" x2="1324.30" y2="1368.80" stroke="#2F5B2B" stroke-width="2.8" stroke-linecap="butt"/>
<line x1="1315.30" y1="1368.80" x2="1333.30" y2="1368.80" stroke="#2F5B2B" stroke-width="2.8" stroke-linecap="round"/>
<rect x="1307.70" y="1396.50" width="33.20" height="161.50" fill="#F2E93B"/>
<path d="M1307.70,1558.00 L1307.70,1396.50 L1340.90,1396.50 L1340.90,1558.00" fill="none" stroke="#000" stroke-width="4.4"/>
<line x1="1305.00" y1="1396.50" x2="1343.60" y2="1396.50" stroke="#000" stroke-width="4.4"/>
<line x1="1381.25" y1="1369.20" x2="1381.25" y2="1334.80" stroke="#E8A030" stroke-width="2.8" stroke-linecap="butt"/>
<line x1="1372.25" y1="1334.80" x2="1390.25" y2="1334.80" stroke="#E8A030" stroke-width="2.8" stroke-linecap="round"/>
<rect x="1364.65" y="1370.40" width="33.20" height="187.60" fill="#E8A83D"/>
<path d="M1364.65,1558.00 L1364.65,1370.40 L1397.85,1370.40 L1397.85,1558.00" fill="none" stroke="#000" stroke-width="4.4"/>
<line x1="1361.95" y1="1370.40" x2="1400.55" y2="1370.40" stroke="#000" stroke-width="4.4"/>
<line x1="1438.20" y1="1510.60" x2="1438.20" y2="1497.40" stroke="#000" stroke-width="2.8" stroke-linecap="butt"/>
<line x1="1429.20" y1="1497.40" x2="1447.20" y2="1497.40" stroke="#000" stroke-width="2.8" stroke-linecap="round"/>
<rect x="1421.60" y="1511.80" width="33.20" height="46.20" fill="#0A0A0A"/>
<g clip-path="url(#c8)" stroke="#F7EFA0" stroke-width="3.0" stroke-linecap="round">
<line x1="1418.80" y1="1573.60" x2="1457.60" y2="1534.80"/>
<line x1="1418.80" y1="1555.85" x2="1457.60" y2="1517.05"/>
<line x1="1418.80" y1="1538.10" x2="1457.60" y2="1499.30"/>
<line x1="1418.80" y1="1520.35" x2="1457.60" y2="1481.55"/>
<line x1="1418.80" y1="1502.60" x2="1457.60" y2="1463.80"/>
<line x1="1418.80" y1="1484.85" x2="1457.60" y2="1446.05"/>
</g>
<path d="M1421.60,1558.00 L1421.60,1511.80 L1454.80,1511.80 L1454.80,1558.00" fill="none" stroke="#000" stroke-width="4.4"/>
<line x1="1418.90" y1="1511.80" x2="1457.50" y2="1511.80" stroke="#000" stroke-width="4.4"/>
<line x1="1495.15" y1="1507.70" x2="1495.15" y2="1494.50" stroke="#D3363B" stroke-width="2.8" stroke-linecap="butt"/>
<line x1="1486.15" y1="1494.50" x2="1504.15" y2="1494.50" stroke="#D3363B" stroke-width="2.8" stroke-linecap="round"/>
<rect x="1478.55" y="1508.90" width="33.20" height="49.10" fill="#D14548"/>
<path d="M1478.55,1558.00 L1478.55,1508.90 L1511.75,1508.90 L1511.75,1558.00" fill="none" stroke="#000" stroke-width="4.4"/>
<line x1="1475.85" y1="1508.90" x2="1514.45" y2="1508.90" stroke="#000" stroke-width="4.4"/>
<line x1="1552.10" y1="1427.70" x2="1552.10" y2="1411.30" stroke="#F0B86C" stroke-width="2.8" stroke-linecap="butt"/>
<line x1="1543.10" y1="1411.30" x2="1561.10" y2="1411.30" stroke="#F0B86C" stroke-width="2.8" stroke-linecap="round"/>
<rect x="1535.50" y="1428.90" width="33.20" height="129.10" fill="#EBC082"/>
<rect x="1554.90" y="1431.10" width="3.4" height="126.90" fill="#E0B277" opacity="0.7"/>
<rect x="1537.70" y="1542.40" width="28.80" height="2.4" fill="#E0B277" opacity="0.6"/>
<rect x="1537.70" y="1520.05" width="28.80" height="2.4" fill="#E0B277" opacity="0.6"/>
<rect x="1537.70" y="1497.70" width="28.80" height="2.4" fill="#E0B277" opacity="0.6"/>
<rect x="1537.70" y="1475.35" width="28.80" height="2.4" fill="#E0B277" opacity="0.6"/>
<rect x="1537.70" y="1453.00" width="28.80" height="2.4" fill="#E0B277" opacity="0.6"/>
<path d="M1535.50,1558.00 L1535.50,1428.90 L1568.70,1428.90 L1568.70,1558.00" fill="none" stroke="#000" stroke-width="4.4"/>
<line x1="1532.80" y1="1428.90" x2="1571.40" y2="1428.90" stroke="#000" stroke-width="4.4"/>
<line x1="1609.05" y1="1427.70" x2="1609.05" y2="1399.10" stroke="#E08030" stroke-width="2.8" stroke-linecap="butt"/>
<line x1="1600.05" y1="1399.10" x2="1618.05" y2="1399.10" stroke="#E08030" stroke-width="2.8" stroke-linecap="round"/>
<rect x="1592.45" y="1428.90" width="33.20" height="129.10" fill="#DC8030"/>
<path d="M1592.45,1558.00 L1592.45,1428.90 L1625.65,1428.90 L1625.65,1558.00" fill="none" stroke="#000" stroke-width="4.4"/>
<line x1="1589.75" y1="1428.90" x2="1628.35" y2="1428.90" stroke="#000" stroke-width="4.4"/>
<line x1="1666.00" y1="1465.50" x2="1666.00" y2="1448.60" stroke="#B0206A" stroke-width="2.8" stroke-linecap="butt"/>
<line x1="1657.00" y1="1448.60" x2="1675.00" y2="1448.60" stroke="#B0206A" stroke-width="2.8" stroke-linecap="round"/>
<rect x="1649.40" y="1466.70" width="33.20" height="91.30" fill="#AF2167"/>
<path d="M1649.40,1558.00 L1649.40,1466.70 L1682.60,1466.70 L1682.60,1558.00" fill="none" stroke="#000" stroke-width="4.4"/>
<line x1="1646.70" y1="1466.70" x2="1685.30" y2="1466.70" stroke="#000" stroke-width="4.4"/>
<line x1="1722.95" y1="1526.40" x2="1722.95" y2="1510.80" stroke="#D3363B" stroke-width="2.8" stroke-linecap="butt"/>
<line x1="1713.95" y1="1510.80" x2="1731.95" y2="1510.80" stroke="#D3363B" stroke-width="2.8" stroke-linecap="round"/>
<rect x="1706.35" y="1527.60" width="33.20" height="30.40" fill="#D14548"/>
<path d="M1706.35,1558.00 L1706.35,1527.60 L1739.55,1527.60 L1739.55,1558.00" fill="none" stroke="#000" stroke-width="4.4"/>
<line x1="1703.65" y1="1527.60" x2="1742.25" y2="1527.60" stroke="#000" stroke-width="4.4"/>
<line x1="1141.00" y1="1558.00" x2="1764.50" y2="1558.00" stroke="#000" stroke-width="5.4" stroke-linecap="round"/>
<line x1="1210.40" y1="1558.00" x2="1210.40" y2="1590.00" stroke="#000" stroke-width="5.4" stroke-linecap="round"/>
<line x1="1267.35" y1="1558.00" x2="1267.35" y2="1590.00" stroke="#000" stroke-width="5.4" stroke-linecap="round"/>
<line x1="1324.30" y1="1558.00" x2="1324.30" y2="1590.00" stroke="#000" stroke-width="5.4" stroke-linecap="round"/>
<line x1="1381.25" y1="1558.00" x2="1381.25" y2="1590.00" stroke="#000" stroke-width="5.4" stroke-linecap="round"/>
<line x1="1438.20" y1="1558.00" x2="1438.20" y2="1590.00" stroke="#000" stroke-width="5.4" stroke-linecap="round"/>
<line x1="1495.15" y1="1558.00" x2="1495.15" y2="1590.00" stroke="#000" stroke-width="5.4" stroke-linecap="round"/>
<line x1="1552.10" y1="1558.00" x2="1552.10" y2="1590.00" stroke="#000" stroke-width="5.4" stroke-linecap="round"/>
<line x1="1609.05" y1="1558.00" x2="1609.05" y2="1590.00" stroke="#000" stroke-width="5.4" stroke-linecap="round"/>
<line x1="1666.00" y1="1558.00" x2="1666.00" y2="1590.00" stroke="#000" stroke-width="5.4" stroke-linecap="round"/>
<line x1="1722.95" y1="1558.00" x2="1722.95" y2="1590.00" stroke="#000" stroke-width="5.4" stroke-linecap="round"/>
<path d="M1205.7,1373.0 L1205.7,1171.4 L1491.1,1171.4 L1491.1,1217.8" fill="none" stroke="#000" stroke-width="2.8"/>
<line x1="1262.30" y1="1218.40" x2="1724.00" y2="1218.40" stroke="#000" stroke-width="2.8" stroke-linecap="butt"/>
<line x1="1262.30" y1="1205.20" x2="1262.30" y2="1232.50" stroke="#000" stroke-width="2.8" stroke-linecap="butt"/>
<line x1="1724.00" y1="1205.20" x2="1724.00" y2="1232.50" stroke="#000" stroke-width="2.8" stroke-linecap="butt"/>
<text x="1241.20" y="1386.10" font-size="46.5" font-weight="bold" text-anchor="start">ns</text>
<text x="1300.20" y="1340.50" font-size="46.5" font-weight="bold" text-anchor="start">ns</text>
<text x="1361.60" y="1317.60" font-size="46.5" font-weight="bold" text-anchor="start">ns</text>
<text x="1430.70" y="1479.50" font-family='"Liberation Sans", sans-serif' font-size="50.52" font-weight="bold" text-anchor="start">*</text>
<text x="1487.50" y="1486.80" font-family='"Liberation Sans", sans-serif' font-size="50.52" font-weight="bold" text-anchor="start">*</text>
<text x="1530.40" y="1380.10" font-size="46.5" font-weight="bold" text-anchor="start">ns</text>
<text x="1588.90" y="1385.80" font-size="46.5" font-weight="bold" text-anchor="start">ns</text>
<text x="1653.50" y="1432.80" font-size="46.5" font-weight="bold" text-anchor="start">ns</text>
<text x="1714.70" y="1504.30" font-family='"Liberation Sans", sans-serif' font-size="52.06" font-weight="bold" text-anchor="start">*</text>
<text x="1225.40" y="1633.20" font-size="47.0" font-weight="bold" text-anchor="end" transform="rotate(-44.2 1225.40 1633.20)">Co <tspan font-weight="normal">(-</tspan>ve Control)</text>
<text x="1282.35" y="1633.20" font-size="47.0" font-weight="bold" text-anchor="end" transform="rotate(-44.2 1282.35 1633.20)">REGO (2μM)</text>
<text x="1339.30" y="1633.20" font-size="47.0" font-weight="bold" text-anchor="end" transform="rotate(-44.2 1339.30 1633.20)">AMK (10μM)</text>
<text x="1396.25" y="1633.20" font-size="47.0" font-weight="bold" text-anchor="end" transform="rotate(-44.2 1396.25 1633.20)">AMK (20μM)</text>
<text x="1453.20" y="1633.20" font-size="47.0" font-weight="bold" text-anchor="end" transform="rotate(-44.2 1453.20 1633.20)">R<tspan font-weight="normal">+</tspan>A (2μM <tspan font-weight="normal">+</tspan>10μM)</text>
<text x="1510.15" y="1633.20" font-size="47.0" font-weight="bold" text-anchor="end" transform="rotate(-44.2 1510.15 1633.20)">R<tspan font-weight="normal">+</tspan>A (2μM <tspan font-weight="normal">+</tspan>20μM)</text>
<text x="1567.10" y="1633.20" font-size="47.0" font-weight="bold" text-anchor="end" transform="rotate(-44.2 1567.10 1633.20)">GNT (10μM)</text>
<text x="1624.05" y="1633.20" font-size="47.0" font-weight="bold" text-anchor="end" transform="rotate(-44.2 1624.05 1633.20)">GNT (20μM)</text>
<text x="1681.00" y="1633.20" font-size="47.0" font-weight="bold" text-anchor="end" transform="rotate(-44.2 1681.00 1633.20)">R<tspan font-weight="normal">+</tspan>G (2μM <tspan font-weight="normal">+</tspan>10μM)</text>
<text x="1737.95" y="1633.20" font-size="47.0" font-weight="bold" text-anchor="end" transform="rotate(-44.2 1737.95 1633.20)">R<tspan font-weight="normal">+</tspan>G (2μM <tspan font-weight="normal">+</tspan>20μM)</text>
</svg>
</body></html>
